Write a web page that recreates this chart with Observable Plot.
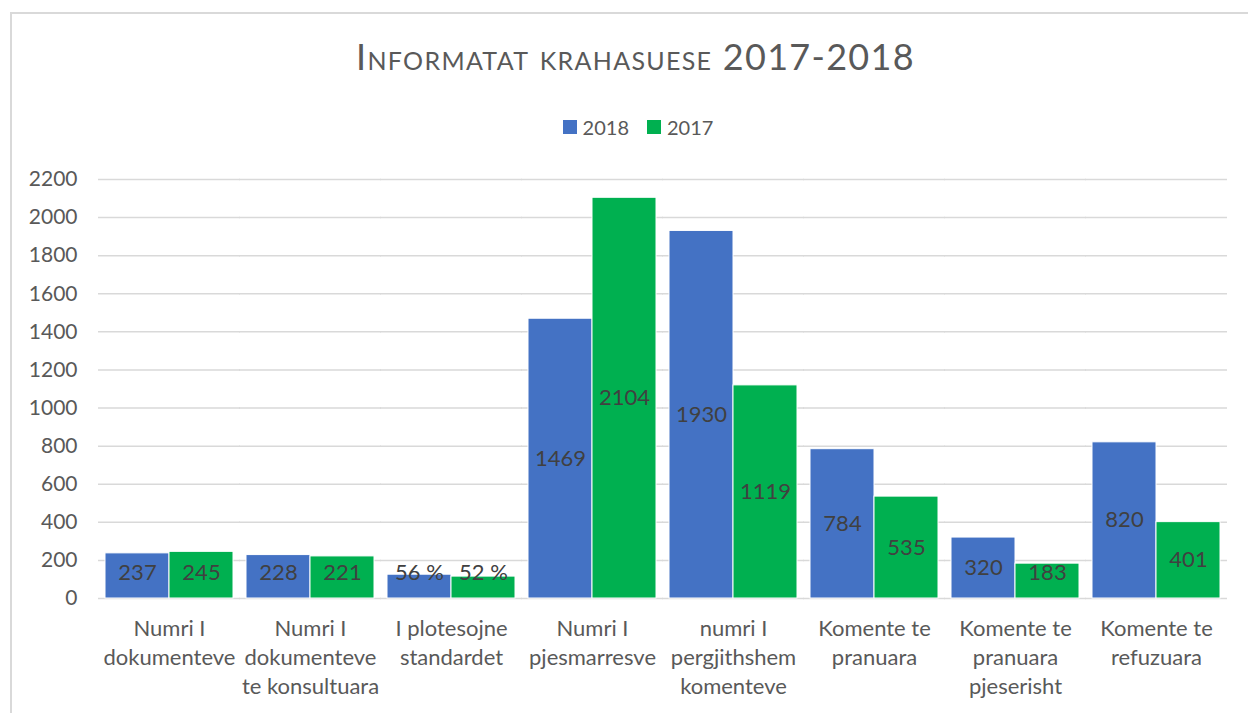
<!DOCTYPE html>
<html>
<head>
<meta charset="utf-8">
<script src="https://cdn.jsdelivr.net/npm/d3@7"></script>
<script src="https://cdn.jsdelivr.net/npm/@observablehq/plot@0.6"></script>
<style>
  html, body { margin: 0; padding: 0; background: #fff; }
  body { width: 1248px; height: 713px; position: relative; overflow: hidden; font-family: Lato, "Open Sans", sans-serif; }
  #frame { position: absolute; left: 10px; top: 12px; width: 1260px; height: 720px; border: 2px solid #d9d9d9; box-sizing: border-box; }
  #title { position: absolute; left: 0; top: 36px; width: 1271px; text-align: center; font-size: 36px; line-height: 40px; color: #595959; font-variant: small-caps; letter-spacing: 1.3px; white-space: nowrap; }
  #legend { position: absolute; left: 0; top: 114px; width: 1276px; display: flex; justify-content: center; align-items: center; font-size: 20px; color: #595959; line-height: 26px; }
  #legend .item { display: flex; align-items: center; margin: 0 9px; }
  #legend .sw { width: 14px; height: 14px; margin-right: 6px; }
  #chart { position: absolute; left: 0; top: 150px; }
</style>
</head>
<body>
<div id="frame"></div>
<div id="title">Informatat krahasuese 2017-2018</div>
<div id="legend"></div>
<div id="chart"></div>
<script>
// Data
const categories = [
  "Numri I\ndokumenteve",
  "Numri I\ndokumenteve\nte konsultuara",
  "I plotesojne\nstandardet",
  "Numri I\npjesmarresve",
  "numri I\npergjithshem\nkomenteve",
  "Komente te\npranuara",
  "Komente te\npranuara\npjeserisht",
  "Komente te\nrefuzuara"
];
const series = ["2018", "2017"];
const values2018 = [237, 228, 125, 1469, 1930, 784, 320, 820];
const values2017 = [245, 221, 115, 2104, 1119, 535, 183, 401];
const labels2018 = ["237", "228", "56 %", "1469", "1930", "784", "320", "820"];
const labels2017 = ["245", "221", "52 %", "2104", "1119", "535", "183", "401"];
const yTicks = [0, 200, 400, 600, 800, 1000, 1200, 1400, 1600, 1800, 2000, 2200];
const colors = ["#4472C4", "#00B050"];

const data = [];
categories.forEach((c, i) => {
  data.push({cat: c, year: "2018", value: values2018[i], label: labels2018[i]});
  data.push({cat: c, year: "2017", value: values2017[i], label: labels2017[i]});
});

// Legend
const legend = document.getElementById("legend");
series.forEach((s, i) => {
  const it = document.createElement("div");
  it.className = "item";
  it.innerHTML = `<span class="sw" style="background:${colors[i]}"></span><span>${s}</span>`;
  legend.appendChild(it);
});

const chart = Plot.plot({
  width: 1248,
  height: 563,
  marginLeft: 98,
  marginRight: 20,
  marginTop: 29,
  marginBottom: 115,
  style: {fontFamily: "Lato, 'Open Sans', sans-serif", fontSize: "21px", color: "#595959", background: "transparent", overflow: "visible"},
  fx: {domain: categories, paddingInner: 0.09, paddingOuter: 0.05, label: null, axis: null},
  x: {domain: series, padding: 0, axis: null},
  y: {domain: [0, 2200], axis: null},
  color: {domain: series, range: colors},
  marks: [
    Plot.ruleY(yTicks, {y: d => d, stroke: "#d9d9d9", strokeWidth: 1.5, insetLeft: -7, insetRight: -7}),
    Plot.axisY(yTicks, {anchor: "left", tickSize: 0, tickPadding: 28, label: null, fontSize: 21, tickFormat: d => String(d)}),
    Plot.axisFx({anchor: "bottom", tickSize: 0, tickPadding: 17, label: null, lineHeight: 1.32, fontSize: 22}),
    Plot.barY(data, {fx: "cat", x: "year", y: "value", fill: "year", stroke: "white", strokeWidth: 1}),
    Plot.text(data, {fx: "cat", x: "year", y: d => Math.max(d.value / 2, 136), text: "label", fill: "#404040", fontSize: 22})
  ]
});
document.getElementById("chart").appendChild(chart);
</script>
</body>
</html>
